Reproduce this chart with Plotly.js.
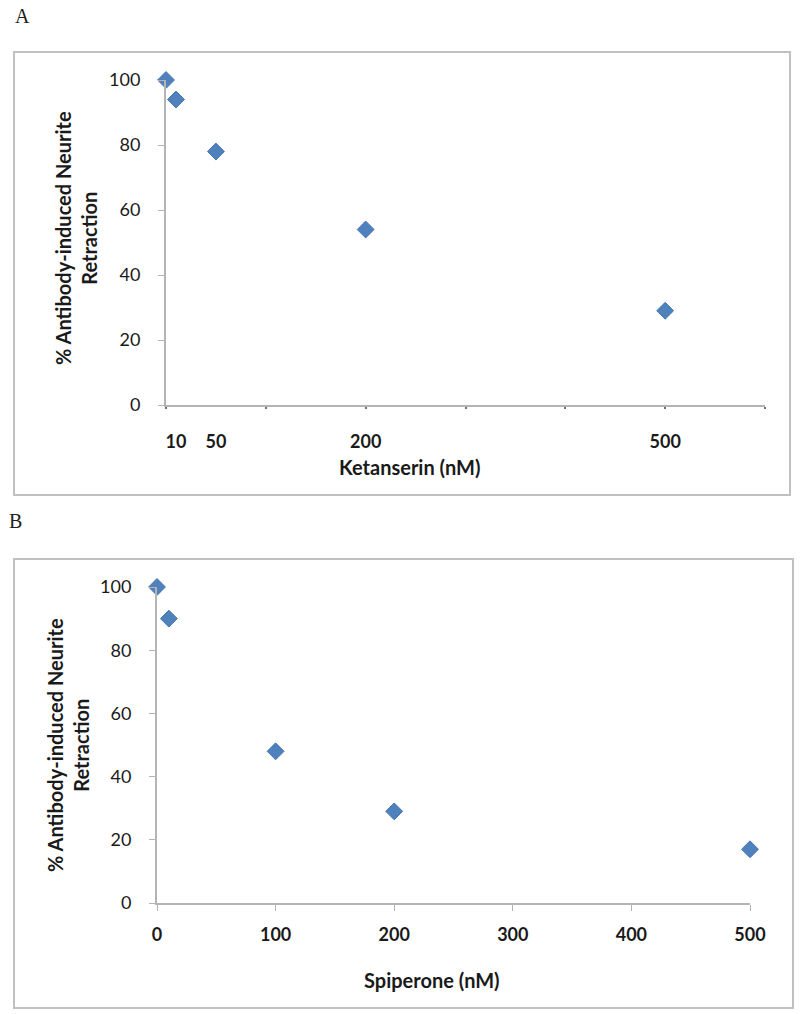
<!DOCTYPE html>
<html><head><meta charset="utf-8">
<script src="https://cdn.plot.ly/plotly-3.0.1.min.js"></script>
<style>body{margin:0;background:#fff}#chart{width:800px;height:1014px}</style>
</head><body><div id="chart"></div>
<script>
// ---- data ----
const ketanserinDose = [0, 10, 50, 200, 500];
const ketanserinRetraction = [100, 94, 78, 54, 29];
const ketanserinTickVals = [10, 50, 200, 500];
const ketanserinTickText = ['10', '50', '200', '500'];
const ketanserinMinorTicks = [0, 100, 200, 300, 400, 500, 600];

const spiperoneDose = [0, 10, 100, 200, 500];
const spiperoneRetraction = [100, 90, 48, 29, 17];
const spiperoneTickVals = [0, 100, 200, 300, 400, 500];

const yTickVals = [0, 20, 40, 60, 80, 100];
const yTitle = '% Antibody-induced Neurite<br>Retraction';
const xTitleA = 'Ketanserin (nM)';
const xTitleB = 'Spiperone (nM)';

// ---- geometry helpers (pixel -> paper) ----
const W = 800, H = 1014;
const fx = p => p / W;
const fy = p => 1 - p / H;

const FONT = "Lato, 'Open Sans', sans-serif";
const AXIS_COLOR = '#b4b4b4';
const TEXT_COLOR = '#1a1a1a';
const MARKER = {symbol: 'diamond', size: 13, color: '#4F81BD', line: {color: '#4677b3', width: 1}};

const traces = [
  {x: ketanserinDose, y: ketanserinRetraction, type: 'scatter', mode: 'markers',
   xaxis: 'x', yaxis: 'y', marker: MARKER, cliponaxis: false, hoverinfo: 'skip'},
  {x: [], y: [], type: 'scatter', mode: 'markers', xaxis: 'x3', yaxis: 'y', hoverinfo: 'skip'},
  {x: spiperoneDose, y: spiperoneRetraction, type: 'scatter', mode: 'markers',
   xaxis: 'x2', yaxis: 'y2', marker: MARKER, cliponaxis: false, hoverinfo: 'skip'}
];

const yAxisCommon = {
  range: [0, 100], tickmode: 'array', tickvals: yTickVals,
  showline: true, linecolor: AXIS_COLOR, linewidth: 2,
  ticks: 'outside', ticklen: 6, tickwidth: 1, tickcolor: AXIS_COLOR,
  showgrid: false, zeroline: false,
  tickfont: {family: FONT, size: 18, color: TEXT_COLOR},
  ticklabelstandoff: 14, fixedrange: true
};

const layout = {
  width: W, height: H,
  margin: {l: 0, r: 0, t: 0, b: 0},
  paper_bgcolor: '#fff', plot_bgcolor: 'rgba(0,0,0,0)',
  showlegend: false,
  xaxis: {
    domain: [fx(166), fx(765)], range: [0, 600], anchor: 'y',
    tickmode: 'array', tickvals: ketanserinMinorTicks, showticklabels: false,
    showline: true, linecolor: AXIS_COLOR, linewidth: 2,
    ticks: 'outside', ticklen: 2, tickwidth: 2, tickcolor: '#6f6f6f',
    showgrid: false, zeroline: false, fixedrange: true
  },
  xaxis3: {
    overlaying: 'x', anchor: 'y', range: [0, 600],
    tickmode: 'array', tickvals: ketanserinTickVals, ticktext: ketanserinTickText,
    ticks: '', showline: false, showgrid: false, zeroline: false,
    tickfont: {family: FONT, size: 18, color: TEXT_COLOR, weight: 'bold'},
    ticklabelstandoff: 24, fixedrange: true
  },
  yaxis: Object.assign({}, yAxisCommon, {domain: [fy(405), fy(80)], anchor: 'x'}),
  xaxis2: {
    domain: [fx(157), fx(750)], range: [0, 500], anchor: 'y2',
    tickmode: 'array', tickvals: spiperoneTickVals,
    showline: true, linecolor: AXIS_COLOR, linewidth: 2,
    ticks: 'outside', ticklen: 6, tickwidth: 1, tickcolor: AXIS_COLOR,
    showgrid: false, zeroline: false,
    tickfont: {family: FONT, size: 18, color: TEXT_COLOR, weight: 'bold'},
    ticklabelstandoff: 8, fixedrange: true
  },
  yaxis2: Object.assign({}, yAxisCommon, {domain: [fy(903), fy(587)], anchor: 'x2'}),
  shapes: [
    {type: 'rect', xref: 'paper', yref: 'paper', x0: fx(14), x1: fx(790), y0: fy(52), y1: fy(495),
     line: {color: '#c0c0c0', width: 2}, fillcolor: 'rgba(0,0,0,0)', layer: 'below'},
    {type: 'rect', xref: 'paper', yref: 'paper', x0: fx(14), x1: fx(793), y0: fy(559), y1: fy(1008),
     line: {color: '#c0c0c0', width: 2}, fillcolor: 'rgba(0,0,0,0)', layer: 'below'}
  ],
  annotations: [
    {text: 'A', xref: 'paper', yref: 'paper', x: fx(13), y: fy(16), xanchor: 'left', yanchor: 'middle',
     showarrow: false, font: {family: "'Liberation Serif', 'DejaVu Serif', serif", size: 20, color: '#222'}},
    {text: 'B', xref: 'paper', yref: 'paper', x: fx(7), y: fy(521), xanchor: 'left', yanchor: 'middle',
     showarrow: false, font: {family: "'Liberation Serif', 'DejaVu Serif', serif", size: 20, color: '#222'}},
    {text: xTitleA, xref: 'paper', yref: 'paper', x: fx(410), y: fy(467), xanchor: 'center', yanchor: 'middle',
     showarrow: false, font: {family: FONT, size: 20, color: TEXT_COLOR, weight: 'bold'}},
    {text: xTitleB, xref: 'paper', yref: 'paper', x: fx(432), y: fy(980), xanchor: 'center', yanchor: 'middle',
     showarrow: false, font: {family: FONT, size: 20, color: TEXT_COLOR, weight: 'bold'}},
    {text: yTitle, xref: 'paper', yref: 'paper', x: fx(76), y: fy(238), xanchor: 'center', yanchor: 'middle',
     textangle: -90, showarrow: false, font: {family: FONT, size: 20, color: TEXT_COLOR, weight: 'bold'}},
    {text: yTitle, xref: 'paper', yref: 'paper', x: fx(68), y: fy(745), xanchor: 'center', yanchor: 'middle',
     textangle: -90, showarrow: false, font: {family: FONT, size: 20, color: TEXT_COLOR, weight: 'bold'}}
  ]
};

Plotly.newPlot('chart', traces, layout, {staticPlot: true, displayModeBar: false});
</script>
</body></html>
